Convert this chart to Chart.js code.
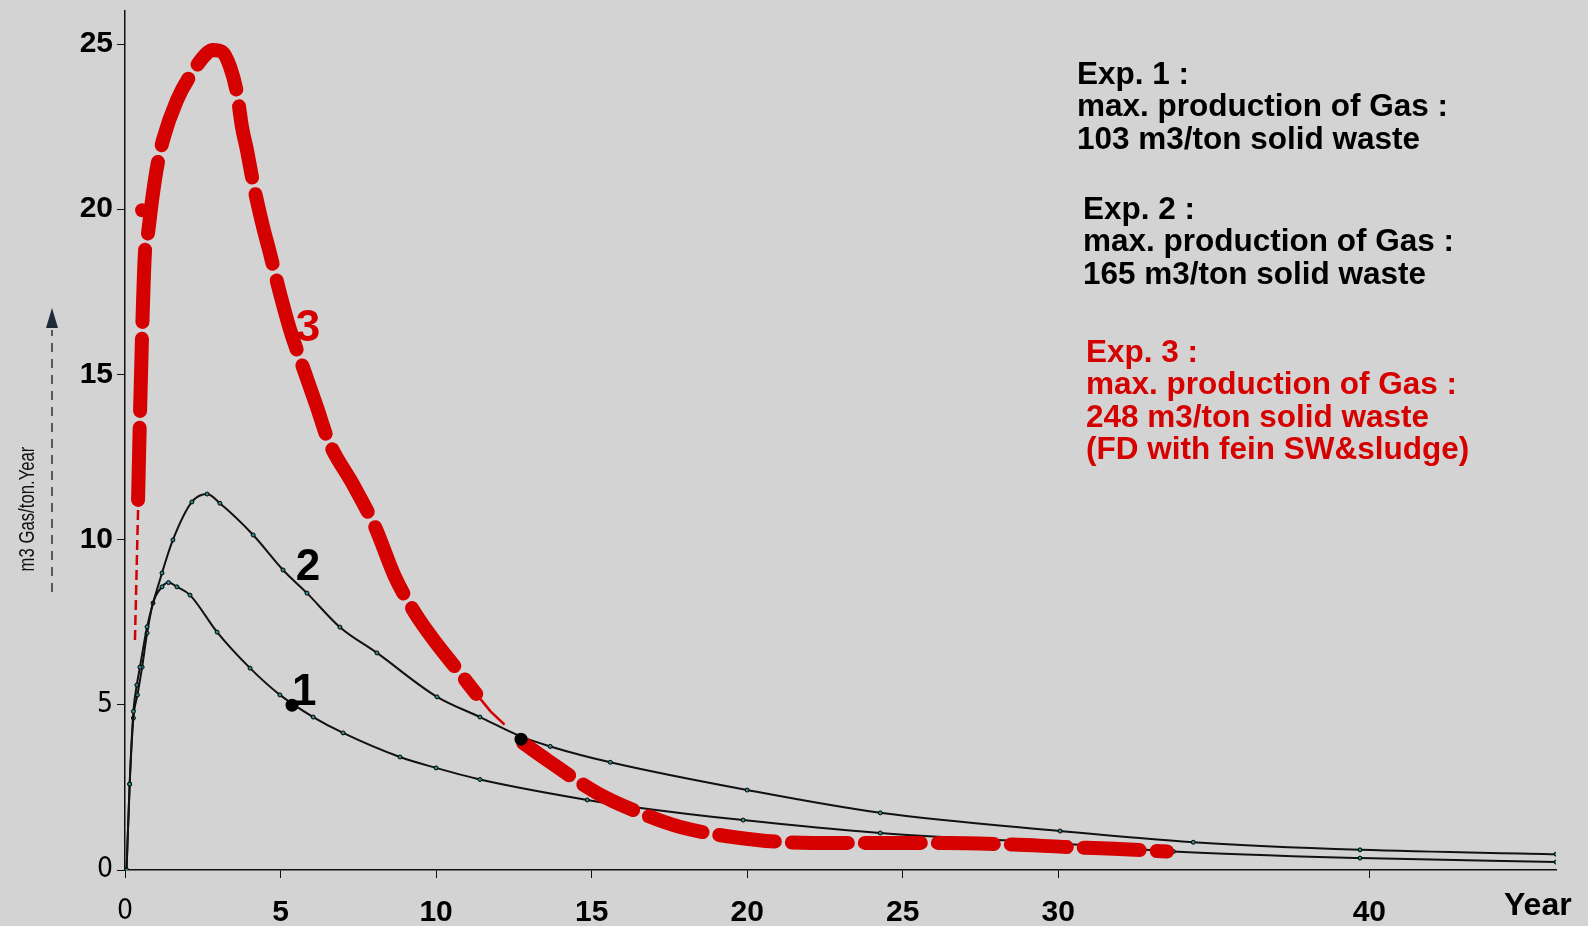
<!DOCTYPE html>
<html>
<head>
<meta charset="utf-8">
<title>Gas production per ton of solid waste</title>
<script src="https://cdn.jsdelivr.net/npm/chart.js@4.4.1/dist/chart.umd.min.js"></script>
<style>
  html, body { margin: 0; padding: 0; background: #d3d3d3; }
  #wrap { width: 1588px; height: 926px; }
</style>
</head>
<body>
<div id="wrap"><canvas id="gasChart" width="1588" height="926"></canvas></div>
<script>
// values (year, m3 gas / ton.year)
const exp1Years = [0.05, 0.15, 0.27, 0.4, 0.55, 0.71, 0.9, 1.19, 1.4, 1.67, 2.09, 2.96, 4.02, 4.98, 6.05, 7.01, 8.84, 10.0, 11.41, 14.86, 16.33, 19.87, 24.28, 30.06, 33.7, 39.7, 46.0];
const exp1Gas   = [0, 2.6, 4.6, 5.3, 6.14, 7.17, 8.08, 8.57, 8.7, 8.57, 8.32, 7.2, 6.11, 5.3, 4.63, 4.15, 3.42, 3.09, 2.74, 2.12, 1.91, 1.51, 1.12, 0.8, 0.56, 0.36, 0.24];

const exp2Years = [0.05, 0.15, 0.27, 0.38, 0.48, 0.71, 1.19, 1.54, 2.15, 2.64, 3.05, 4.12, 5.08, 5.85, 6.91, 8.1, 10.03, 11.41, 12.7, 13.67, 15.6, 20.0, 24.28, 30.06, 34.34, 39.7, 46.0];
const exp2Gas   = [0, 2.6, 4.8, 5.6, 6.14, 7.36, 8.99, 9.99, 11.14, 11.38, 11.1, 10.14, 9.08, 8.38, 7.35, 6.57, 5.24, 4.63, 4.05, 3.74, 3.26, 2.42, 1.73, 1.18, 0.84, 0.61, 0.48];

// Exp. 3 is a thick red marker trace with a thin pencil start and a thin bridge
const exp3StartYears = [0.32, 0.37, 0.42];
const exp3StartGas   = [6.96, 8.93, 10.9];
const exp3Years = [0.42, 0.48, 0.55, 0.64, 0.74, 0.87, 1.03, 1.22, 1.67, 2.15, 2.64, 2.83, 3.12, 3.38, 3.6, 3.76, 3.92, 4.12, 4.44, 4.66, 4.98, 5.31, 5.72, 6.17, 6.53, 7.36, 8.04, 8.68, 9.32, 10.0, 10.64, 11.29];
const exp3Gas   = [11.2, 13.71, 16.25, 18.67, 19.28, 20.28, 21.28, 22.09, 23.3, 24.12, 24.73, 24.82, 24.76, 24.3, 23.52, 22.49, 21.79, 20.79, 19.46, 18.67, 17.46, 16.34, 15.22, 14.01, 13.01, 11.62, 10.38, 8.87, 7.78, 6.87, 6.11, 5.33];
const exp3BridgeYears = [11.29, 11.75, 12.2];
const exp3BridgeGas   = [5.33, 4.8, 4.4];
const exp3TailYears = [12.8, 13.57, 15.18, 16.56, 17.85, 20.32, 22.1, 24.3, 26.27, 28.55, 30.16, 31.8, 33.5];
const exp3TailGas   = [3.84, 3.33, 2.33, 1.73, 1.3, 0.91, 0.82, 0.82, 0.82, 0.77, 0.7, 0.64, 0.56];

const dotYears = [5.37, 12.73];
const dotGas   = [4.99, 3.96];
const redDotYears = [0.55];
const redDotGas   = [19.97];

const curveLabels     = ['1', '2', '3'];
const curveLabelYears = [5.76, 5.88, 5.88];
const curveLabelGas   = [5.36, 9.14, 16.39];

const xTickLabels = [0, 5, 10, 15, 20, 25, 30, 40];
const yTickLabels = [0, 5, 10, 15, 20, 25];

const noteBlocks = [
  { color: '#000000', x: 1077, y: 84, lines: ['Exp. 1 :', 'max. production of Gas :', '103 m3/ton solid waste'] },
  { color: '#000000', x: 1083, y: 219, lines: ['Exp. 2 :', 'max. production of Gas :', '165 m3/ton solid waste'] },
  { color: '#d50000', x: 1086, y: 362, lines: ['Exp. 3 :', 'max. production of Gas :', '248 m3/ton solid waste', '(FD with fein SW&sludge)'] }
];

const RED = '#d50000';
const INK = '#111111';
const BOLD = { family: "'Liberation Sans', Arial, sans-serif", size: 30, weight: 'bold' };
const NARROW = { family: "'Liberation Sans Narrow', 'DejaVu Sans Condensed', sans-serif", size: 28, weight: 'normal' };

const toPoints = (xs, ys) => xs.map((x, i) => ({ x, y: ys[i] }));

// texts and decorations that are not part of the axes
const decorPlugin = {
  id: 'decor',
  afterDatasetsDraw(chart) {
    const { ctx, scales: { x, y } } = chart;
    ctx.save();

    // hand written curve numbers
    ctx.font = "bold 44px 'Liberation Sans', Arial, sans-serif";
    ctx.textAlign = 'center';
    ctx.textBaseline = 'middle';
    curveLabels.forEach((label, i) => {
      ctx.fillStyle = label === '3' ? RED : '#000';
      ctx.fillText(label, x.getPixelForValue(curveLabelYears[i]), y.getPixelForValue(curveLabelGas[i]));
    });

    // notes on the right
    ctx.font = "bold 31.5px 'Liberation Sans', Arial, sans-serif";
    ctx.textAlign = 'left';
    ctx.textBaseline = 'alphabetic';
    noteBlocks.forEach(block => {
      ctx.fillStyle = block.color;
      block.lines.forEach((line, i) => ctx.fillText(line, block.x, block.y + i * 32.3));
    });

    // x axis name
    ctx.fillStyle = '#000';
    ctx.font = "bold 32px 'Liberation Sans', Arial, sans-serif";
    ctx.fillText('Year', 1504, 915);

    // y axis name, tall and narrow like the scan
    ctx.save();
    ctx.translate(28, 509);
    ctx.rotate(-Math.PI / 2);
    ctx.scale(0.76, 1);
    ctx.font = "22px 'Liberation Sans', Arial, sans-serif";
    ctx.textAlign = 'center';
    ctx.textBaseline = 'middle';
    ctx.fillStyle = INK;
    ctx.fillText('m3 Gas/ton.Year', 0, 0);
    ctx.restore();

    // little dashed arrow next to the axis name
    ctx.strokeStyle = '#333';
    ctx.lineWidth = 1.5;
    ctx.setLineDash([9, 7]);
    ctx.beginPath();
    ctx.moveTo(52, 592);
    ctx.lineTo(52, 330);
    ctx.stroke();
    ctx.setLineDash([]);
    ctx.fillStyle = '#1c2a3a';
    ctx.beginPath();
    ctx.moveTo(52, 308);
    ctx.lineTo(46, 328);
    ctx.lineTo(58, 328);
    ctx.closePath();
    ctx.fill();

    ctx.restore();
  }
};

const ctx = document.getElementById('gasChart').getContext('2d');

new Chart(ctx, {
  type: 'line',
  data: {
    datasets: [
      {
        label: 'markers',
        data: toPoints(dotYears, dotGas),
        showLine: false,
        pointRadius: 6.5,
        pointBackgroundColor: '#000',
        pointBorderWidth: 0,
        order: 0
      },
      {
        label: 'red dot',
        data: toPoints(redDotYears, redDotGas),
        showLine: false,
        pointRadius: 7,
        pointBackgroundColor: RED,
        pointBorderWidth: 0,
        order: 0
      },
      {
        label: 'Exp. 3',
        data: toPoints(exp3Years, exp3Gas),
        borderColor: RED,
        borderWidth: 14,
        borderCapStyle: 'round',
        borderJoinStyle: 'round',
        borderDash: [72, 17],
        pointRadius: 0,
        cubicInterpolationMode: 'monotone',
        order: 1
      },
      {
        label: 'Exp. 3 tail',
        data: toPoints(exp3TailYears, exp3TailGas),
        borderColor: RED,
        borderWidth: 14,
        borderCapStyle: 'round',
        borderJoinStyle: 'round',
        borderDash: [56, 17],
        pointRadius: 0,
        cubicInterpolationMode: 'monotone',
        order: 1
      },
      {
        label: 'Exp. 3 start',
        data: toPoints(exp3StartYears, exp3StartGas),
        borderColor: RED,
        borderWidth: 2.5,
        borderDash: [10, 5],
        pointRadius: 0,
        order: 1
      },
      {
        label: 'Exp. 3 bridge',
        data: toPoints(exp3BridgeYears, exp3BridgeGas),
        borderColor: RED,
        borderWidth: 2.5,
        pointRadius: 0,
        order: 1
      },
      {
        label: 'Exp. 2',
        data: toPoints(exp2Years, exp2Gas),
        borderColor: INK,
        borderWidth: 2,
        pointRadius: 2,
        pointBackgroundColor: '#2f8c8c',
        pointBorderColor: '#000',
        pointBorderWidth: 1,
        cubicInterpolationMode: 'monotone',
        order: 2
      },
      {
        label: 'Exp. 1',
        data: toPoints(exp1Years, exp1Gas),
        borderColor: INK,
        borderWidth: 2,
        pointRadius: 2,
        pointBackgroundColor: '#2f8c8c',
        pointBorderColor: '#000',
        pointBorderWidth: 1,
        cubicInterpolationMode: 'monotone',
        order: 2
      }
    ]
  },
  options: {
    responsive: false,
    animation: false,
    devicePixelRatio: 1,
    layout: { padding: { left: 0, right: 32, top: 11, bottom: 0 } },
    plugins: {
      legend: { display: false },
      tooltip: { enabled: false }
    },
    scales: {
      x: {
        type: 'linear',
        min: 0,
        max: 46,
        afterFit: scale => {
          scale.height = 56;
          scale.paddingLeft = 0;
          scale.paddingRight = 0;
        },
        border: { display: true, color: INK, width: 1.5 },
        grid: {
          drawOnChartArea: false,
          drawTicks: true,
          tickLength: 8,
          color: c => (c.tick && xTickLabels.includes(c.tick.value)) ? INK : 'rgba(0,0,0,0)'
        },
        ticks: {
          stepSize: 5,
          includeBounds: false,
          autoSkip: false,
          maxRotation: 0,
          padding: 17,
          color: '#000',
          font: c => (c.tick && c.tick.value === 0) ? NARROW : BOLD,
          callback: value => xTickLabels.includes(value) ? String(value) : ''
        }
      },
      y: {
        type: 'linear',
        min: 0,
        max: 26,
        afterFit: scale => {
          scale.width = 125;
          scale.paddingTop = 0;
          scale.paddingBottom = 0;
        },
        border: { display: true, color: INK, width: 1.5 },
        grid: {
          drawOnChartArea: false,
          drawTicks: true,
          tickLength: 8,
          color: INK
        },
        ticks: {
          stepSize: 5,
          includeBounds: false,
          padding: 4,
          color: '#000',
          font: c => (c.tick && c.tick.value <= 5) ? NARROW : BOLD,
          callback: value => yTickLabels.includes(value) ? String(value) : ''
        }
      }
    }
  },
  plugins: [decorPlugin]
});
</script>
</body>
</html>
